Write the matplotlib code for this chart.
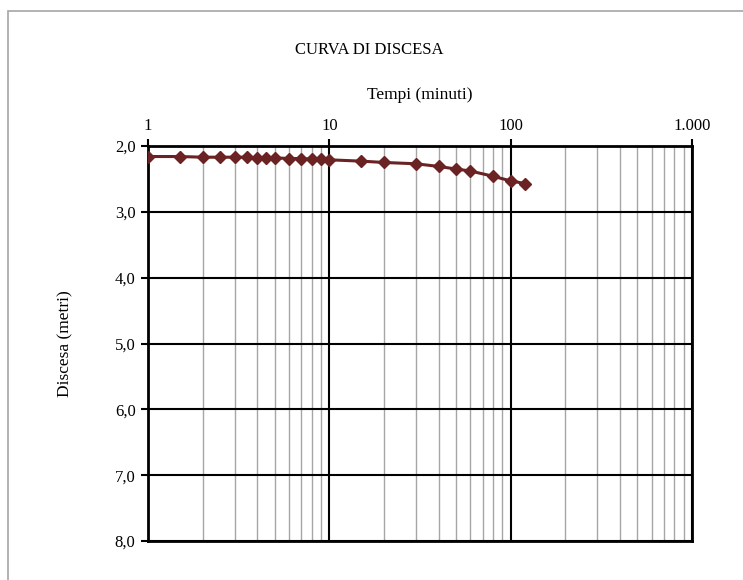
import matplotlib
matplotlib.use("Agg")
import matplotlib.pyplot as plt
from matplotlib.ticker import FixedLocator, LogLocator, FuncFormatter, NullFormatter
from matplotlib.patches import Rectangle

# tempi (minuti) e discesa (metri)
tempi = [1, 1.5, 2, 2.5, 3, 3.5, 4, 4.5, 5, 6, 7, 8, 9, 10,
         15, 20, 30, 40, 50, 60, 80, 100, 120]
discesa = [2.16, 2.16, 2.17, 2.17, 2.17, 2.17, 2.18, 2.18, 2.18, 2.19, 2.19, 2.20, 2.20, 2.21,
           2.23, 2.25, 2.27, 2.31, 2.35, 2.38, 2.46, 2.53, 2.57]
x_ticks = [1, 10, 100, 1000]
x_labels = ["1", "10", "100", "1.000"]
y_ticks = [2, 3, 4, 5, 6, 7, 8]

plt.rcParams['font.family'] = ['Liberation Serif', 'DejaVu Serif']

fig = plt.figure(figsize=(7.43, 5.80), dpi=100)
# bordo grigio dell'area grafico
fig.patches.append(Rectangle((8 / 743, -0.05), 1.2, 1 - 11 / 580 + 0.05,
                             transform=fig.transFigure, fill=False,
                             edgecolor='#a6a6a6', linewidth=1.2))

ax = fig.add_axes([148 / 743, 1 - 541 / 580, (692 - 148) / 743, (541 - 146) / 580])

ax.set_xscale('log')
ax.set_xlim(1, 1000)
ax.set_ylim(8, 2)

ax.plot(tempi, discesa, color='#6b2222', linewidth=2.2, marker='D',
        markersize=6, zorder=5)

ax.xaxis.tick_top()
ax.xaxis.set_label_position('top')
ax.xaxis.set_major_locator(FixedLocator(x_ticks))
ax.xaxis.set_major_formatter(FuncFormatter(lambda v, p: x_labels[x_ticks.index(int(round(v)))] if int(round(v)) in x_ticks else ""))
ax.xaxis.set_minor_locator(LogLocator(base=10, subs=range(2, 10)))
ax.xaxis.set_minor_formatter(NullFormatter())
ax.set_yticks(y_ticks)
ax.yaxis.set_major_formatter(FuncFormatter(lambda v, p: f"{v:.1f}".replace(".", ",")))

ax.grid(which='major', axis='both', color='black', linewidth=1.5)
ax.grid(which='minor', axis='x', color='#a6a6a6', linewidth=1.0)
ax.tick_params(which='major', direction='out', length=5, width=1.5, labelsize=12, pad=4)
ax.tick_params(which='minor', length=0)
for s in ax.spines.values():
    s.set_linewidth(2)
    s.set_color('black')

ax.set_xlabel('Tempi (minuti)', fontsize=12.5, labelpad=13)
ax.set_ylabel('Discesa (metri)', fontsize=12.5, labelpad=30)
fig.text(0.497, 1 - 50 / 580, 'CURVA DI DISCESA', ha='center', va='center', fontsize=12)

fig.savefig('out.png', dpi=100)
